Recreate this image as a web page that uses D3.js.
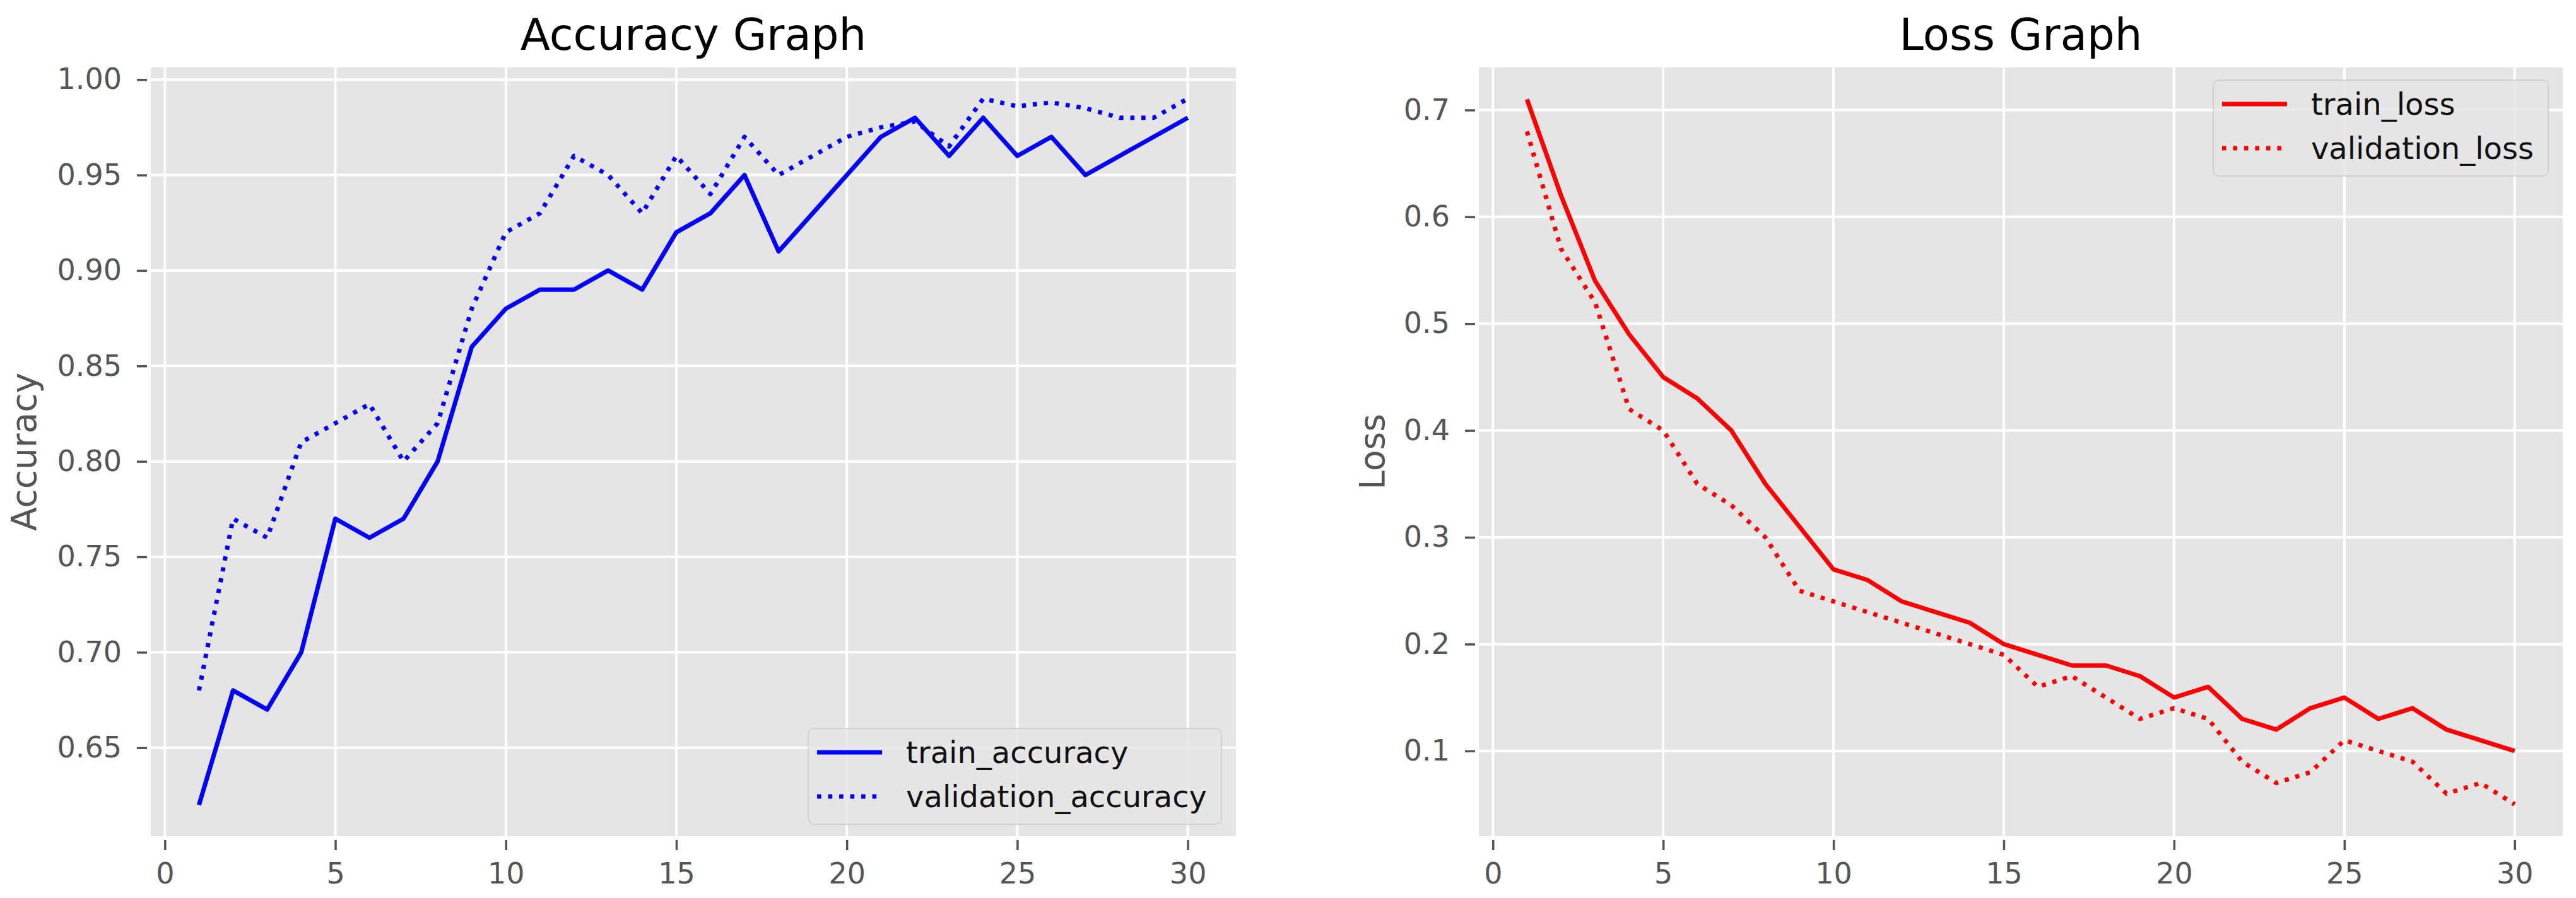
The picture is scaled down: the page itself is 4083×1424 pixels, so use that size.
<!DOCTYPE html>
<html>
<head>
<meta charset="utf-8">
<script src="https://cdn.jsdelivr.net/npm/d3@7"></script>
<style>
    body { margin: 0; background: #ffffff; }
    svg { display: block; font-family: "DejaVu Sans", sans-serif; }
</style>
</head>
<body>
<svg id="chart" width="4083" height="1424"></svg>
<script>
// values
var epochs = [1, 2, 3, 4, 5, 6, 7, 8, 9, 10, 11, 12, 13, 14, 15,
              16, 17, 18, 19, 20, 21, 22, 23, 24, 25, 26, 27, 28, 29, 30];
var trainAccuracy = [0.62, 0.68, 0.67, 0.70, 0.77, 0.76, 0.77, 0.80, 0.86, 0.88,
                     0.89, 0.89, 0.90, 0.89, 0.92, 0.93, 0.95, 0.91, 0.93, 0.95,
                     0.97, 0.98, 0.96, 0.98, 0.96, 0.97, 0.95, 0.96, 0.97, 0.98];
var validationAccuracy = [0.68, 0.77, 0.76, 0.81, 0.82, 0.83, 0.80, 0.82, 0.88, 0.92,
                          0.93, 0.96, 0.95, 0.93, 0.96, 0.94, 0.97, 0.95, 0.96, 0.97,
                          0.975, 0.978, 0.965, 0.99, 0.986, 0.988, 0.985, 0.98, 0.98, 0.99];
var trainLoss = [0.71, 0.62, 0.54, 0.49, 0.45, 0.43, 0.40, 0.35, 0.31, 0.27,
                 0.26, 0.24, 0.23, 0.22, 0.20, 0.19, 0.18, 0.18, 0.17, 0.15,
                 0.16, 0.13, 0.12, 0.14, 0.15, 0.13, 0.14, 0.12, 0.11, 0.10];
var validationLoss = [0.68, 0.57, 0.52, 0.42, 0.40, 0.35, 0.33, 0.30, 0.25, 0.24,
                      0.23, 0.22, 0.21, 0.20, 0.19, 0.16, 0.17, 0.15, 0.13, 0.14,
                      0.13, 0.09, 0.07, 0.08, 0.11, 0.10, 0.09, 0.06, 0.07, 0.05];
var xTicks = [0, 5, 10, 15, 20, 25, 30];
var accuracyTicks = [0.65, 0.70, 0.75, 0.80, 0.85, 0.90, 0.95, 1.00];
var lossTicks = [0.1, 0.2, 0.3, 0.4, 0.5, 0.6, 0.7];

const svg = d3.select('#chart');
const tickFont = 46;
const legendFont = 48;
const dotted = '6.6 10.9';

drawPanel({
    left: 237, right: 1961, top: 105, bottom: 1328,
    yDomain: [0.603, 1.007], yTicks: accuracyTicks, yFormat: d3.format('.2f'),
    title: 'Accuracy Graph', ylabel: 'Accuracy', ylabelX: 57,
    color: '#0000ff', legend: 'lower right',
    series: [
        { name: 'train_accuracy', values: trainAccuracy, dash: null },
        { name: 'validation_accuracy', values: validationAccuracy, dash: dotted }
    ]
});

drawPanel({
    left: 2342, right: 4064, top: 105, bottom: 1328,
    yDomain: [0.019, 0.741], yTicks: lossTicks, yFormat: d3.format('.1f'),
    title: 'Loss Graph', ylabel: 'Loss', ylabelX: 2194,
    color: '#ff0000', legend: 'upper right',
    series: [
        { name: 'train_loss', values: trainLoss, dash: null },
        { name: 'validation_loss', values: validationLoss, dash: dotted }
    ]
});

function drawPanel(p) {
    const xScale = d3.scaleLinear().domain([-0.45, 31.45]).range([p.left, p.right]);
    const yScale = d3.scaleLinear().domain(p.yDomain).range([p.bottom, p.top]);
    const g = svg.append('g');

    // grey plot area with white spines
    g.append('rect')
        .attr('x', p.left).attr('y', p.top)
        .attr('width', p.right - p.left).attr('height', p.bottom - p.top)
        .attr('fill', '#e5e5e5').attr('stroke', '#ffffff').attr('stroke-width', 4);

    // grid
    g.append('g').selectAll('line').data(xTicks).join('line')
        .attr('x1', d => xScale(d)).attr('x2', d => xScale(d))
        .attr('y1', p.top).attr('y2', p.bottom)
        .attr('stroke', '#ffffff').attr('stroke-width', 4);
    g.append('g').selectAll('line').data(p.yTicks).join('line')
        .attr('x1', p.left).attr('x2', p.right)
        .attr('y1', d => yScale(d)).attr('y2', d => yScale(d))
        .attr('stroke', '#ffffff').attr('stroke-width', 4);

    // lines
    const line = d3.line()
        .x((d, i) => xScale(epochs[i]))
        .y(d => yScale(d));
    p.series.forEach(function (s) {
        g.append('path')
            .datum(s.values)
            .attr('fill', 'none')
            .attr('stroke', p.color)
            .attr('stroke-width', 7)
            .attr('stroke-linejoin', 'round')
            .attr('stroke-dasharray', s.dash)
            .attr('d', line);
    });

    // axes
    const xAxis = d3.axisBottom(xScale).tickValues(xTicks).tickSize(16).tickSizeOuter(0).tickPadding(20);
    const gx = g.append('g').attr('transform', `translate(0,${p.bottom + 4})`).call(xAxis);
    const yAxis = d3.axisLeft(yScale).tickValues(p.yTicks).tickFormat(p.yFormat)
        .tickSize(16).tickSizeOuter(0).tickPadding(24);
    const gy = g.append('g').attr('transform', `translate(${p.left - 4},0)`).call(yAxis);
    [gx, gy].forEach(function (a) {
        a.select('.domain').remove();
        a.selectAll('.tick line').attr('stroke', '#555555').attr('stroke-width', 3.5);
        a.selectAll('.tick text')
            .attr('fill', '#555555')
            .style('font-size', tickFont + 'px')
            .style('font-family', '"DejaVu Sans", sans-serif');
    });

    // title and y label
    g.append('text')
        .attr('x', (p.left + p.right) / 2).attr('y', 79)
        .attr('text-anchor', 'middle')
        .attr('fill', '#000000')
        .style('font-size', '69px')
        .text(p.title);
    g.append('text')
        .attr('transform', `translate(${p.ylabelX},${(p.top + p.bottom) / 2}) rotate(-90)`)
        .attr('text-anchor', 'middle')
        .attr('fill', '#555555')
        .style('font-size', '55px')
        .text(p.ylabel);

    drawLegend(g, p);
}

function drawLegend(g, p) {
    const leg = g.append('g');
    const box = leg.append('rect');
    const labels = [];
    p.series.forEach(function (s, i) {
        const t = leg.append('text')
            .attr('x', 0).attr('y', i * 70)
            .attr('dy', '0.35em')
            .attr('fill', '#111111')
            .style('font-size', legendFont + 'px')
            .text(s.name);
        labels.push(t);
    });
    const textW = d3.max(labels, t => t.node().getComputedTextLength());
    const width = 14 + 103 + 38 + textW + 23;
    const height = 152;
    const bx = p.right - 25 - width;
    const by = p.legend === 'lower right' ? p.bottom - 21 - height : p.top + 22;

    box.attr('x', bx).attr('y', by)
        .attr('width', width).attr('height', height)
        .attr('rx', 9).attr('ry', 9)
        .attr('fill', '#e5e5e5').attr('fill-opacity', 0.8)
        .attr('stroke', '#cccccc').attr('stroke-opacity', 0.8).attr('stroke-width', 2);

    p.series.forEach(function (s, i) {
        const cy = by + 38 + i * 70;
        leg.append('line')
            .attr('x1', bx + 14).attr('x2', bx + 117)
            .attr('y1', cy).attr('y2', cy)
            .attr('stroke', p.color)
            .attr('stroke-width', 7)
            .attr('stroke-dasharray', s.dash);
        labels[i].attr('x', bx + 155).attr('y', cy);
    });
}
</script>
</body>
</html>
